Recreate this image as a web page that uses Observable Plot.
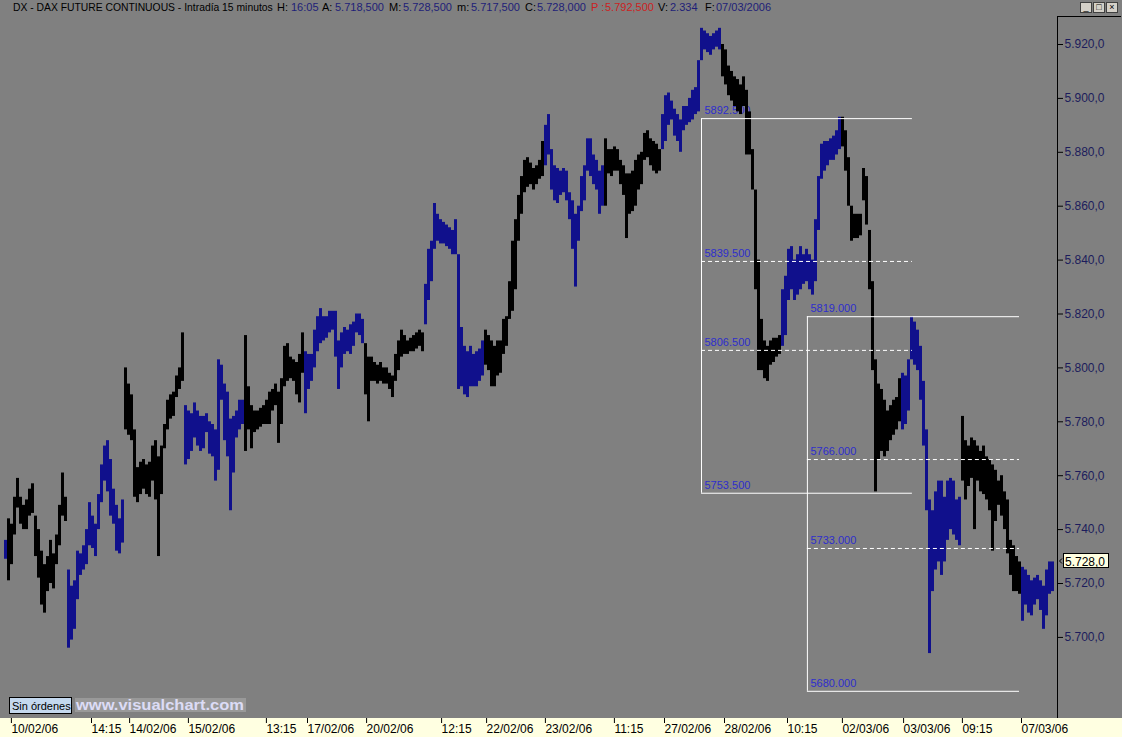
<!DOCTYPE html>
<html><head><meta charset="utf-8">
<script src="https://cdn.jsdelivr.net/npm/d3@7"></script>
<script src="https://cdn.jsdelivr.net/npm/@observablehq/plot@0.6"></script>
<style>
html,body{margin:0;padding:0;background:#808080;width:1122px;height:737px;overflow:hidden;font-family:"Liberation Sans",Arial,sans-serif;}
#title{position:relative;height:16px;background:#808080;font-size:11px;line-height:15px;white-space:nowrap;}
#title span{position:absolute;top:0;}
#title .v{color:#1e1e78;}
#title .r{color:#cc2222;}
#title .n{transform:scaleX(0.94);transform-origin:0 0;}
.wb{position:absolute;top:2px;width:10px;height:9px;background:#d4d0c8;border:1px solid #404040;font-size:9px;line-height:9px;text-align:center;color:#000;}
#chart svg{display:block;}
</style></head>
<body>
<div id="title">
<span class="n" style="left:13px">DX - DAX FUTURE CONTINUOUS - Intradía 15 minutos</span>
<span style="left:277px">H:</span><span class="v" style="left:291px">16:05</span>
<span style="left:322px">A:</span><span class="v" style="left:335px">5.718,500</span>
<span style="left:389px">M:</span><span class="v" style="left:403px">5.728,500</span>
<span style="left:457px">m:</span><span class="v" style="left:471px">5.717,500</span>
<span style="left:525px">C:</span><span class="v" style="left:537px">5.728,000</span>
<span class="r" style="left:591px">P :</span><span class="r" style="left:605px">5.792,500</span>
<span style="left:658px">V:</span><span class="v" style="left:670px">2.334</span>
<span style="left:705px">F:</span><span class="v" style="left:716px">07/03/2006</span>
<div class="wb" style="left:1080px">_</div><div class="wb" style="left:1093px">□</div><div class="wb" style="left:1106px">×</div>
</div>
<div id="chart"></div>
<script>
// trading days (first bar index of each day) and their labels
const dayLabels = ["09/02","10/02","13/02","14/02","15/02","16/02","17/02","20/02","21/02","22/02","23/02","24/02","27/02","28/02","01/03","02/03","03/03","06/03","07/03"];
const dayStarts = [0,1,21,40,60,80,100,120,140,160,180,200,219,239,259,279,299,319,339];

// bar highs (each bar ~ several 15-minute bars)
const highs = [
5736,
5744,5742,5752,5759,5752,5749,5751,5755,5757,5745,5740,5732,5727,5730,5736,5731,5738,5749,5761,5752,
5725,5719,5721,5732,5731,5734,5740,5750,5745,5742,5753,5764,5771,5773,5766,5755,5749,5744,5751,
5800,5794,5790,5777,5763,5765,5766,5764,5765,5771,5773,5767,5771,5779,5788,5790,5791,5797,5800,5813,
5786,5784,5783,5787,5784,5782,5782,5783,5780,5779,5777,5803,5801,5794,5791,5781,5782,5784,5788,5788,
5812,5793,5786,5784,5784,5785,5786,5788,5791,5792,5794,5791,5796,5808,5809,5804,5803,5802,5805,5813,
5806,5805,5805,5814,5819,5822,5819,5819,5821,5821,5821,5810,5813,5815,5814,5816,5817,5820,5820,5818,
5809,5804,5804,5802,5801,5802,5800,5800,5798,5797,5805,5810,5814,5812,5810,5811,5812,5813,5814,5813,
5831,5844,5847,5861,5857,5855,5854,5853,5852,5851,5855,5842,5815,5808,5806,5808,5805,5806,5807,5810,
5814,5812,5810,5808,5810,5810,5818,5819,5832,5847,5855,5864,5871,5877,5878,5876,5874,5875,5877,5884,
5890,5894,5881,5875,5874,5873,5874,5873,5865,5862,5857,5860,5871,5875,5885,5885,5879,5877,5873,5875,
5885,5881,5881,5882,5881,5877,5875,5872,5872,5873,5877,5879,5880,5887,5888,5885,5884,5883,5881,
5894,5901,5902,5899,5896,5894,5892,5897,5897,5900,5903,5904,5914,5926,5925,5924,5923,5924,5925,5926,
5920,5918,5912,5910,5908,5907,5905,5908,5903,5895,5881,5866,5840,5818,5810,5808,5810,5811,5811,5812,
5829,5834,5844,5845,5840,5842,5845,5842,5844,5842,5840,5855,5871,5883,5884,5884,5885,5886,5888,5893,
5893,5888,5878,5860,5857,5857,5857,5874,5871,5851,5832,5803,5794,5792,5788,5784,5786,5788,5789,5796,
5798,5797,5803,5819,5817,5814,5808,5795,5777,5751,5747,5754,5758,5758,5752,5758,5759,5758,5751,5752,
5782,5773,5771,5774,5773,5771,5769,5771,5767,5766,5764,5762,5758,5760,5754,5751,5736,5734,5730,5728,
5726,5725,5723,5721,5722,5723,5721,5719,5725,5728,5728
];
// bar lows
const lows = [
5729,
5721,5727,5738,5748,5742,5740,5740,5745,5746,5730,5722,5712,5709,5717,5720,5718,5727,5734,5745,5743,
5696,5699,5703,5714,5723,5725,5727,5734,5733,5730,5740,5750,5758,5754,5745,5742,5732,5731,5735,
5777,5775,5773,5752,5750,5753,5755,5753,5752,5758,5751,5730,5753,5770,5777,5781,5782,5789,5792,5795,
5764,5766,5769,5774,5771,5769,5770,5776,5768,5767,5758,5762,5788,5773,5767,5747,5761,5774,5777,5779,
5769,5777,5770,5776,5777,5778,5779,5779,5779,5784,5786,5772,5779,5793,5795,5796,5795,5790,5787,5798,
5783,5792,5795,5800,5806,5809,5810,5811,5813,5814,5804,5792,5800,5805,5806,5805,5808,5813,5812,5809,
5790,5780,5795,5795,5794,5795,5794,5794,5792,5789,5795,5799,5804,5805,5805,5806,5806,5807,5808,5806,
5816,5825,5832,5844,5847,5846,5846,5845,5844,5842,5842,5792,5793,5790,5789,5793,5793,5793,5795,5797,
5801,5799,5793,5793,5797,5798,5805,5808,5818,5821,5829,5847,5857,5865,5867,5868,5866,5868,5870,5871,
5875,5879,5866,5862,5861,5864,5865,5862,5855,5844,5830,5847,5858,5862,5873,5871,5868,5866,5857,5860,
5860,5872,5871,5873,5873,5868,5864,5848,5857,5858,5860,5866,5868,5877,5878,5875,5873,5872,5873,
5881,5884,5890,5892,5886,5884,5880,5888,5890,5891,5892,5894,5895,5914,5918,5917,5916,5918,5919,5918,
5908,5905,5901,5899,5897,5895,5894,5897,5879,5879,5866,5829,5799,5799,5796,5795,5801,5802,5804,5805,
5808,5812,5825,5829,5825,5827,5829,5831,5832,5829,5827,5832,5851,5870,5873,5875,5877,5877,5879,5881,
5882,5873,5860,5847,5848,5848,5849,5862,5853,5829,5799,5754,5766,5769,5767,5769,5773,5775,5777,5780,
5777,5779,5784,5803,5801,5799,5788,5771,5747,5694,5717,5725,5728,5723,5728,5736,5740,5738,5736,5734,
5758,5751,5756,5759,5740,5758,5754,5753,5751,5747,5732,5743,5749,5745,5740,5731,5723,5717,5717,5716,
5706,5712,5709,5708,5712,5714,5710,5703,5708,5716,5717
];
const lastClose = 5728;

// time axis ticks (bar index) and labels
const xTickBars = [1.3,28,40.7,60.3,86.3,100,119.7,144.7,159.7,179.3,202.3,219,239,260,278.3,298.7,318.3,338];
const xTickLabels = ["10/02/06","14:15","14/02/06","15/02/06","13:15","17/02/06","20/02/06","12:15","22/02/06","23/02/06","11:15","27/02/06","28/02/06","10:15","02/03/06","03/03/06","09:15","07/03/06"];
const yTicks = [5700,5720,5740,5760,5780,5800,5820,5840,5860,5880,5900,5920];

// Fibonacci retracement boxes
const fibStartBar = [232, 267.3];
const fibEndBar = [302.3, 338];
const fibLevels1 = [5892.5, 5839.5, 5806.5, 5753.5];
const fibLevels2 = [5819, 5766, 5733, 5680];

const BLUE = "#10108c", BLACK = "#000000";
const bars = highs.map((h, i) => ({i, hi: h, lo: lows[i], day: d3.bisectRight(dayStarts, i) - 1}));
const fibRows = [];
[fibLevels1, fibLevels2].forEach((lv, b) => lv.forEach((level, k) => fibRows.push({a: fibStartBar[b], b: fibEndBar[b], level, dashed: k === 1 || k === 2})));
const fibBoxes = [fibLevels1, fibLevels2].map((lv, b) => ({a: fibStartBar[b], top: d3.max(lv), bottom: d3.min(lv)}));

const fmtY = v => d3.format(",.1f")(v).replace(/,/g, "#").replace(".", ",").replace(/#/g, ".");
const xLabel = new Map(xTickBars.map((b, k) => [b, xTickLabels[k]]));

const chart = Plot.plot({
  width: 1122, height: 721,
  marginTop: 0, marginLeft: 0, marginRight: 65, marginBottom: 19,
  style: {background: "#808080", fontFamily: "'Liberation Sans', Arial, sans-serif", fontSize: "12px", overflow: "visible"},
  x: {type: "linear", domain: [-5/3, 1052/3]},
  y: {domain: [5669.91, 5930.39]},
  marks: [
    Plot.text(fibRows, {x: "a", y: "level", text: d => d3.format(".3f")(d.level), textAnchor: "start", dx: 3, dy: -8, fill: "#2e2ecc", fontSize: 11}),
    Plot.ruleX(bars, {x: "i", y1: "lo", y2: "hi", stroke: d => d.day % 2 === 0 ? BLUE : BLACK, strokeWidth: 3}),
    Plot.ruleY(fibRows.filter(d => !d.dashed), {y: "level", x1: "a", x2: "b", stroke: "white", strokeWidth: 1}),
    Plot.ruleY(fibRows.filter(d => d.dashed), {y: "level", x1: "a", x2: "b", stroke: "white", strokeWidth: 1, strokeDasharray: "4,3"}),
    Plot.ruleX(fibBoxes, {x: "a", y1: "bottom", y2: "top", stroke: "white", strokeWidth: 1}),
    Plot.axisY({anchor: "right", ticks: yTicks, tickFormat: fmtY, tickSize: 5, tickPadding: 2, stroke: "#000", fill: "#1c1c5c", fontSize: 12, label: null}),
    Plot.axisX({anchor: "bottom", ticks: xTickBars, tickFormat: d => xLabel.get(d), tickSize: 5, tickPadding: 1, textAnchor: "start", dx: 2, stroke: "#000", fill: "#000", fontSize: 12, label: null})
  ]
});
document.getElementById("chart").appendChild(chart);

// chrome: axis band, panel border, price marker, footer buttons
const svg = d3.select(chart);
const xr = chart.scale("x").range, yr = chart.scale("y").range;
const right = xr[1], bottom = yr[0];
svg.insert("rect", ":first-child").attr("x", 0).attr("y", bottom).attr("width", 1122).attr("height", 721 - bottom).attr("fill", "#ffffe1");
svg.append("line").attr("x1", right + 0.5).attr("x2", right + 0.5).attr("y1", 0).attr("y2", bottom).attr("stroke", "#000");
svg.append("line").attr("x1", right).attr("x2", 1121).attr("y1", 0.5).attr("y2", 0.5).attr("stroke", "#000");
const yc = Math.round(chart.scale("y").apply(lastClose));
svg.append("rect").attr("x", right + 6.5).attr("y", yc - 7.5).attr("width", 45).attr("height", 14).attr("fill", "#ffffe1").attr("stroke", "#000");
svg.append("text").attr("text-anchor", "start").attr("x", right + 8).attr("y", yc + 4.5).attr("font-size", 12).attr("fill", "#000").text(fmtY(lastClose));
svg.append("path").attr("d", `M${right+5},${yc-2.5} L${right+2.5},${yc} L${right+5},${yc+2.5}`).attr("fill", "none").attr("stroke", "#000");
const fy = bottom - 21;
svg.append("rect").attr("x", 9.5).attr("y", fy + 0.5).attr("width", 62).attr("height", 16).attr("fill", "#c4d8ee").attr("stroke", "#000");
svg.append("text").attr("text-anchor", "start").attr("x", 12).attr("y", fy + 12.5).attr("font-size", 11).attr("fill", "#000").text("Sin órdenes");
svg.append("rect").attr("x", 75).attr("y", fy + 1).attr("width", 171).attr("height", 14).attr("fill", "#ffffff").attr("opacity", 0.2);
svg.append("text").attr("text-anchor", "start").attr("x", 76).attr("y", fy + 13).attr("font-size", 15).attr("font-weight", "bold").attr("fill", "#dcdcf6").attr("textLength", 168).attr("lengthAdjust", "spacingAndGlyphs").text("www.visualchart.com");
</script>
</body></html>
